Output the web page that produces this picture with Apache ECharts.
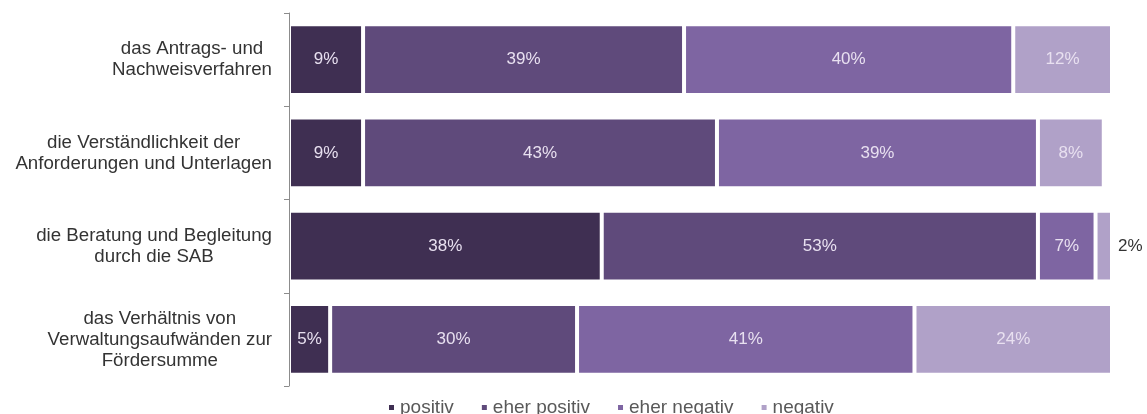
<!DOCTYPE html>
<html>
<head>
<meta charset="utf-8">
<script src="https://cdn.jsdelivr.net/npm/echarts@6/dist/echarts.min.js"></script>
<style>
  html, body { margin: 0; padding: 0; background: #fff; }
  #chart { width: 1147px; height: 414px; }
</style>
</head>
<body>
<div id="chart"></div>
<script>
// Survey statements (top to bottom)
const categories = [
  'das Antrags- und\nNachweisverfahren',
  'die Verständlichkeit der\nAnforderungen und Unterlagen',
  'die Beratung und Begleitung\ndurch die SAB',
  'das Verhältnis von\nVerwaltungsaufwänden zur\nFördersumme'
];
const seriesNames = ['positiv', 'eher positiv', 'eher negativ', 'negativ'];
const positiv      = [9, 9, 38, 5];
const eherPositiv  = [39, 43, 53, 30];
const eherNegativ  = [40, 39, 7, 41];
const negativ      = [12, 8, 2, 24];
const colors = ['#3f2f52', '#5f4a7b', '#7e65a2', '#b0a1c8'];

const FONT = '"Liberation Sans", Arial, sans-serif';

function makeSeries(name, values, color) {
  return {
    name: name,
    type: 'bar',
    stack: 'total',
    barCategoryGap: '24%',
    itemStyle: { color: color, borderColor: '#ffffff', borderWidth: 2 },
    label: {
      show: true,
      position: 'inside',
      formatter: '{c}%',
      color: '#e8e0f0',
      fontFamily: FONT,
      fontSize: 17
    },
    emphasis: { disabled: true },
    data: values.map(v => {
      // very narrow segments get their label outside to the right
      if (v < 4) {
        return { value: v, label: { position: 'right', color: '#333333', fontSize: 17, distance: 6 } };
      }
      return v;
    })
  };
}

const chart = echarts.init(document.getElementById('chart'), null, { renderer: 'canvas' });
chart.setOption({
  animation: false,
  textStyle: { fontFamily: FONT },
  grid: { left: 289, right: 35, top: 13, bottom: 28, containLabel: false },
  legend: {
    data: seriesNames,
    top: 398,
    left: 387,
    padding: 0,
    itemWidth: 7,
    itemHeight: 7,
    itemGap: 26,
    icon: 'rect',
    textStyle: { color: '#595959', fontSize: 19, fontFamily: FONT }
  },
  xAxis: {
    type: 'value',
    min: 0,
    max: 100,
    show: false
  },
  yAxis: {
    type: 'category',
    inverse: true,
    z: 5,
    data: categories,
    axisLine: { show: true, lineStyle: { color: '#8c8c8c', width: 1 } },
    axisTick: { show: true, length: 5, lineStyle: { color: '#8c8c8c' } },
    axisLabel: {
      margin: 17,
      align: 'right',
      // each line centred within the right-aligned label block
      formatter: v => v.split('\n').map(s => '{c|' + s + '}').join('\n'),
      rich: {
        c: {
          align: 'center',
          color: '#333333',
          fontSize: 18.7,
          lineHeight: 21,
          fontFamily: FONT
        }
      }
    }
  },
  series: [
    makeSeries(seriesNames[0], positiv, colors[0]),
    makeSeries(seriesNames[1], eherPositiv, colors[1]),
    makeSeries(seriesNames[2], eherNegativ, colors[2]),
    makeSeries(seriesNames[3], negativ, colors[3])
  ]
});
</script>
</body>
</html>
